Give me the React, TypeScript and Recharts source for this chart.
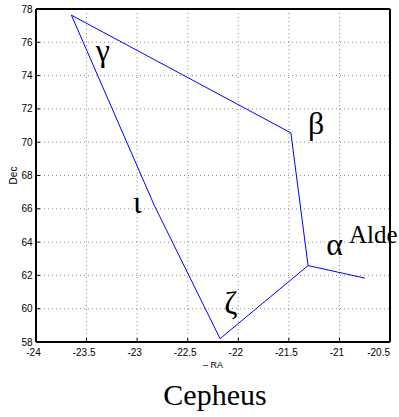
import React from 'react';
import { ComposedChart, Line, Scatter, XAxis, YAxis, CartesianGrid, Label } from 'recharts';

// Cepheus stick figure: η → α → β → γ → ι → ζ → α  (−RA in hours, Dec in degrees)
const pathRA = [-20.75, -21.31, -21.48, -23.65, -22.83, -22.18, -21.31];
const pathDec = [61.84, 62.59, 70.56, 77.63, 66.2, 58.2, 62.59];

// star name annotations (data coordinates of text anchor)
const labelText = ['γ', 'β', 'ι', 'ζ', 'α', 'Alde'];
const labelRA = [-23.41, -21.31, -23.04, -22.14, -21.13, -20.905];
const labelDec = [74.9, 70.5, 65.75, 59.67, 63.22, 63.96];

const xTicks = [-24, -23.5, -23, -22.5, -22, -21.5, -21, -20.5];
const yTicks = [58, 60, 62, 64, 66, 68, 70, 72, 74, 76, 78];

const title = 'Cepheus';
const xLabel = '– RA';
const yLabel = 'Dec';

const pathData = pathRA.map((x, i) => ({ x, y: pathDec[i] }));
const labelData = labelText.map((label, i) => ({ x: labelRA[i], y: labelDec[i], label }));

const sans = 'Liberation Sans, Arial, Helvetica, sans-serif';
const serif = 'Liberation Serif, Times New Roman, serif';

const LabelShape = (props: any) => {
  const { cx, cy, payload } = props;
  const isName = payload.label.length > 1;
  return (
    <text x={cx} y={cy} fontFamily={serif} fontSize={isName ? 25 : 32} fill="#000">
      {payload.label}
    </text>
  );
};

const XTick = (props: any) => {
  const { x, y, payload, index, visibleTicksCount } = props;
  const last = index === (visibleTicksCount ?? xTicks.length) - 1;
  return (
    <text
      x={last ? x : x - 2.5}
      y={y}
      dy={7.1}
      textAnchor={last ? 'end' : 'middle'}
      fontFamily={sans}
      fontSize={10}
      fill="#000"
    >
      {String(payload.value)}
    </text>
  );
};

const XLabelContent = (props: any) => {
  const vb = props.viewBox || {};
  const cx = vb.x + vb.width / 2;
  return (
    <g>
      <text x={cx} y={vb.y + 26.3} textAnchor="middle" fontFamily={sans} fontSize={9} fill="#000">
        {xLabel}
      </text>
      <text x={cx + 2} y={vb.y + 63} textAnchor="middle" fontFamily={serif} fontSize={30} fill="#000">
        {title}
      </text>
    </g>
  );
};

const YLabelContent = (props: any) => {
  const vb = props.viewBox || {};
  const x = vb.x + 16.5;
  const y = vb.y + vb.height / 2;
  return (
    <text
      x={x}
      y={y}
      transform={`rotate(-90 ${x} ${y})`}
      textAnchor="middle"
      fontFamily={sans}
      fontSize={10}
      fill="#000"
    >
      {yLabel}
    </text>
  );
};

const tickStyle = { fill: '#000', fontSize: 10, fontFamily: sans };
const axisLineStyle = { stroke: '#000', strokeWidth: 2 };
const tickLineStyle = { stroke: '#000', strokeWidth: 1 };

export default function App() {
  return (
    <div style={{ width: 399, height: 417, background: '#fff' }}>
      <style>{'body{margin:0;}'}</style>
      <ComposedChart width={399} height={417} margin={{ top: 8, right: 8, bottom: 0, left: 0 }}>
        <CartesianGrid stroke="#8c8c8c" strokeDasharray="1 3" />
        <XAxis
          dataKey="x"
          type="number"
          domain={[-24, -20.5]}
          ticks={xTicks}
          height={75}
          tick={<XTick />}
          axisLine={axisLineStyle}
          tickLine={tickLineStyle}
          tickSize={-4}
          tickMargin={10.6}
          interval={0}
        >
          <Label content={XLabelContent} />
        </XAxis>
        <XAxis
          xAxisId="top"
          orientation="top"
          type="number"
          domain={[-24, -20.5]}
          ticks={xTicks}
          height={1}
          tickFormatter={() => ''}
          axisLine={axisLineStyle}
          tickLine={tickLineStyle}
          tickSize={-4}
          interval={0}
        />
        <YAxis
          dataKey="y"
          type="number"
          domain={[58, 78]}
          ticks={yTicks}
          width={36}
          tick={tickStyle}
          axisLine={axisLineStyle}
          tickLine={tickLineStyle}
          tickSize={-4}
          tickMargin={7.5}
          interval={0}
        >
          <Label content={YLabelContent} />
        </YAxis>
        <YAxis
          yAxisId="right"
          orientation="right"
          type="number"
          domain={[58, 78]}
          ticks={yTicks}
          width={1}
          tickFormatter={() => ''}
          axisLine={axisLineStyle}
          tickLine={tickLineStyle}
          tickSize={-4}
          interval={0}
        />
        <Line
          data={pathData}
          dataKey="y"
          type="linear"
          stroke="#0000ff"
          strokeWidth={1}
          dot={false}
          activeDot={false}
          isAnimationActive={false}
        />
        <Scatter data={labelData} shape={LabelShape} isAnimationActive={false} />
      </ComposedChart>
    </div>
  );
}
